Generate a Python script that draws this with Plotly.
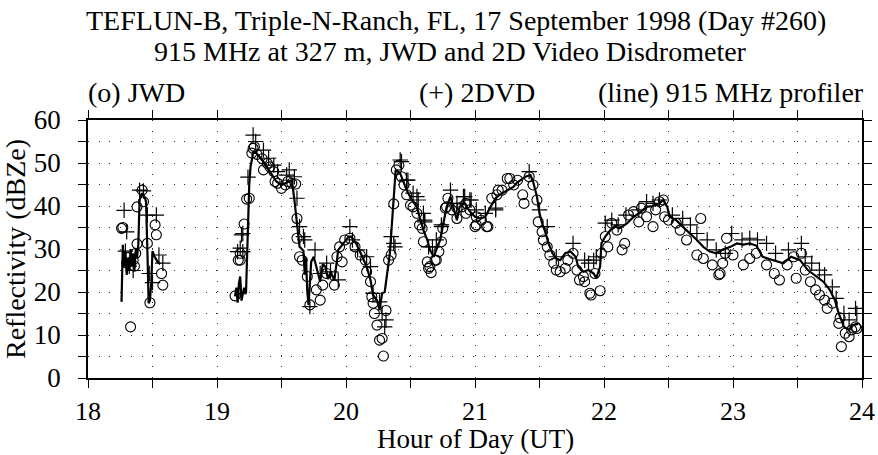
import plotly.graph_objects as go

# ---------------- data ----------------
# 915 MHz profiler (line); None = data gap
prof_hour = [18.26, 18.265, 18.27, 18.28, 18.29, 18.30, 18.31, 18.32, 18.33, 18.34, 18.35, 18.36,
             18.37, 18.38, 18.39, 18.40, 18.42, 18.44, 18.45, 18.46, 18.47, 18.48, 18.49, 18.50,
             18.52, 18.54, 18.56, None,
             19.14, 19.15, 19.16, 19.17, 19.18, 19.19, 19.20, 19.21, 19.22, 19.225, 19.24, 19.25,
             19.26, 19.28, 19.30, 19.32, 19.36, 19.41, 19.46, 19.50, 19.55, 19.58, 19.60, 19.63,
             19.64, 19.67, 19.68, 19.69, 19.70, 19.71, 19.72, 19.73, 19.75, 19.77, 19.80, 19.82,
             19.84, 19.86, 19.88, 19.91, 19.94, 19.98, 20.02, 20.04, 20.08, 20.12, 20.16, 20.19,
             20.21, 20.24, 20.26, 20.28, 20.30, 20.34, 20.385, 20.42, 20.44, 20.47, 20.51, 20.55,
             20.57, 20.60, 20.63, 20.65, 20.68, 20.70, 20.73, 20.75, 20.78, 20.81, 20.83, 20.86,
             20.88, 20.92, 20.96, 21.00, 21.04, 21.08, 21.12, 21.16, 21.19, 21.23, 21.27, 21.30,
             21.32, 21.35, 21.39, 21.43, 21.45, 21.48, 21.50, 21.52, 21.54, 21.57, 21.60, 21.63,
             21.66, 21.70, 21.74, 21.78, 21.80, 21.84, 21.88, 21.92, 21.94, 21.97, 21.98, 22.01,
             22.05, 22.09, 22.12, 22.18, 22.23, 22.28, 22.33, 22.38, 22.43, 22.46, 22.49, 22.51,
             22.56, 22.61, 22.67, 22.72, 22.77, 22.82, 22.87, 22.92, 22.98, 23.03, 23.08, 23.13,
             23.18, 23.23, 23.31, 23.39, 23.45, 23.52, 23.58, 23.65, 23.70, 23.75, 23.79, 23.82,
             23.86, 23.90, 23.93, 23.97]
prof_dbz = [17.7, 25, 31.0, 26, 29.5, 24, 28, 25, 30, 26, 29, 25,
            30, 28, 31, 41.4, 43, 42, 41, 30, 17.4, 18, 22, 29.5,
            28, 27, 26.5, None,
            19.0, 21, 17.5, 22, 23.6, 18, 19.5, 21, 19.5, 20, 35, 45,
            49.1, 52.3, 52.5, 51.8, 50.3, 48, 45.7, 44.9, 45.7, 46, 41.4, 33.6,
            30.5, 29.6, 24, 28, 20, 17, 24, 27, 28.2, 25.9, 22.4, 26.5,
            25.9, 23, 24.7, 22.8, 29.8, 31.3, 32.9, 32.9, 31.2, 28.6, 25.9, 22.8,
            19.3, 18.1, 15.8, 19.7, 20, 29, 48.4, 47.6, 46, 43.7, 41.4, 39.8,
            37.5, 34.4, 32.1, 29.8, 28.2, 29.8, 32.1, 35.2, 39.8, 42.2, 39.8, 36.7,
            39.8, 40.6, 38.7, 37.5, 37.1, 37.5, 39.8, 41.8, 42.6, 43.3, 44.1, 44.5,
            45.3, 46, 46.8, 47.2, 45.7, 42.2, 38.3, 36, 34.4, 31.3, 29, 27.8,
            27.4, 29, 29.4, 28.2, 25.9, 24.7, 25.1, 24.3, 23.2, 25.9, 31.3, 32.9,
            34.4, 35.2, 34.8, 36, 37.5, 38.5, 39.8, 40, 40.6, 41.4, 39.8, 37.5,
            36.7, 35.2, 33.6, 32.1, 30.5, 29.4, 29, 29.8, 30.5, 31.3, 31, 31.3,
            30.8, 28.2, 27.4, 26.7, 28.2, 27.4, 25.1, 23.6, 22.4, 20.5, 18.1, 15,
            11.9, 11.2, 12.3, 12.6]

# JWD (open circles)
jwd_hour = [18.26, 18.27, 18.30, 18.31, 18.33, 18.35, 18.36, 18.37, 18.38, 18.38, 18.42, 18.43,
            18.46, 18.48, 18.52, 18.53, 18.57, 18.58,
            19.14, 19.165, 19.18, 19.18, 19.21, 19.23, 19.25, 19.27, 19.28, 19.29, 19.31, 19.35,
            19.36, 19.39, 19.41, 19.44, 19.45, 19.47, 19.50, 19.53, 19.55, 19.58, 19.61, 19.62,
            19.62, 19.64, 19.66, 19.70, 19.72, 19.77, 19.80, 19.82, 19.85, 19.91, 19.93, 19.95,
            19.97, 19.99, 20.03, 20.07, 20.11, 20.15, 20.16, 20.19, 20.20, 20.21, 20.22, 20.24,
            20.26, 20.28, 20.29, 20.31, 20.33, 20.35, 20.37, 20.39, 20.41, 20.43, 20.45, 20.47,
            20.50, 20.52, 20.55, 20.57, 20.59, 20.60, 20.63, 20.64, 20.65, 20.66, 20.69, 20.70,
            20.72, 20.74, 20.75, 20.77, 20.78, 20.79, 20.82, 20.86, 20.86, 20.90, 20.93, 20.93,
            20.96, 21.00, 21.01, 21.01, 21.05, 21.09, 21.10, 21.13, 21.17, 21.18, 21.21, 21.25,
            21.27, 21.30, 21.33, 21.37, 21.38, 21.42, 21.45, 21.48, 21.49, 21.52, 21.53, 21.56,
            21.58, 21.61, 21.63, 21.66, 21.70, 21.72, 21.76, 21.79, 21.81, 21.84, 21.85, 21.89,
            21.90, 21.93, 21.97, 21.98, 22.01, 22.03, 22.06, 22.10, 22.14, 22.16, 22.19, 22.23,
            22.27, 22.29, 22.33, 22.38, 22.40, 22.43, 22.46, 22.47, 22.50, 22.56, 22.59, 22.64,
            22.72, 22.75, 22.77, 22.84, 22.89, 22.90, 22.92, 22.94, 22.95, 23.00, 23.08, 23.13,
            23.18, 23.26, 23.32, 23.36, 23.42, 23.47, 23.49, 23.53, 23.56, 23.60, 23.64, 23.67,
            23.71, 23.73, 23.77, 23.82, 23.83, 23.84, 23.87, 23.90, 23.92, 23.95, 23.96]
jwd_dbz = [34.8, 35, 26.7, 28, 11.9, 27.4, 26, 29, 31.2, 39.8, 43.7, 41,
           31.3, 17.5, 35.6, 33.3, 24.3, 21.6,
           19.1, 27.4, 27.4, 29, 35.8, 41.6, 41.8, 52.3, 53.4, 53.8, 52, 51,
           48.4, 49.9, 49.1, 48, 45.7, 45.3, 44.1, 44.9, 45.7, 45.3, 45.1, 37.1,
           32.5, 28.2, 27.4, 23.6, 17, 20.5, 18.1, 21.6, 24.3, 21.6, 28.2, 30.5,
           27, 32.1, 32.5, 30.5, 28.6, 27.4, 24.7, 22.4, 18.9, 17.4, 15, 12.3,
           8.8, 9.2, 5.1, 15.7, 27.4, 28.6, 40.5, 48.4, 49.5, 46.8, 44.9, 42.6,
           40.2, 39.8, 38.3, 35.6, 34.8, 31.7, 27, 25.5, 25.9, 24.5, 27.4, 27.4,
           29.4, 31.7, 34.8, 39.5, 39.8, 41.8, 39.1, 39.5, 37.1, 39.8, 38.3, 40.6,
           39.1, 35.2, 37.5, 35.6, 36.7, 35.2, 35.2, 41.8, 42.6, 43.7, 43.7, 46.4,
           46.4, 44.9, 46, 42.6, 40.6, 46.8, 44.9, 41.4, 36.3, 34, 32.1, 30.5,
           28.6, 26.7, 25.1, 24.7, 25.5, 27.4, 29, 25.1, 22.8, 23.6, 22.4, 19.7,
           19.3, 24.3, 20.3, 29, 32.9, 30.5, 36, 34.4, 29.8, 31.3, 37.9, 38.7,
           36.3, 39.5, 37.5, 35.2, 39.1, 41, 41.4, 37.5, 36.7, 36, 34.4, 32.1,
           28.6, 37.1, 27.8, 26.3, 24, 24.3, 26.7, 29, 32.5, 28.6, 26.3, 27.8,
           29, 26.3, 24.3, 22.8, 26.3, 28.2, 23.2, 29, 25.1, 22.4, 20.5, 19.3,
           18.1, 16.2, 17.4, 12.7, 14, 7.3, 10.4, 9.6, 11.2, 11.9, 11.5]

# 2DVD (plus signs)
dvd_hour = [18.28, 18.29, 18.30, 18.32, 18.35, 18.40, 18.43, 18.46, 18.475, 18.50, 18.53, 18.55,
            18.58,
            19.16, 19.18, 19.19, 19.20, 19.20, 19.24, 19.28, 19.30, 19.36, 19.40, 19.44, 19.47,
            19.54, 19.56, 19.60, 19.62, 19.64, 19.67, 19.68, 19.72, 19.76, 19.80, 19.85, 19.88,
            19.94, 20.03, 20.05, 20.09, 20.16, 20.19, 20.21, 20.26, 20.28, 20.30, 20.31, 20.35,
            20.37, 20.38, 20.42, 20.43, 20.47, 20.48, 20.52, 20.55, 20.56, 20.60, 20.61, 20.61,
            20.64, 20.67, 20.70, 20.74, 20.74, 20.81, 20.86, 20.91, 20.92, 20.96, 20.97, 21.01,
            21.08, 21.16, 21.16, 21.42, 21.50, 21.56, 21.63, 21.76, 21.85, 21.88, 21.92, 21.94,
            22.01, 22.06, 22.11, 22.17, 22.27, 22.33, 22.38, 22.43, 22.53, 22.61, 22.67, 22.72,
            22.80, 22.87, 22.94, 22.99, 23.07, 23.13, 23.19, 23.26, 23.33, 23.43, 23.53, 23.56,
            23.61, 23.67, 23.71, 23.77, 23.80, 23.86, 23.90, 23.95, 23.96]
dvd_dbz = [39, 29.5, 34, 26, 25, 43.7, 43.5, 37.9, 24.3, 22.2, 37.9, 28.6,
           26.7,
           29.4, 30.2, 33.3, 33.6, 29.4, 46.7, 56.5, 55, 53, 51.1, 49.5, 48,
           47.2, 48.4, 46.8, 41.8, 35.2, 32.9, 32.1, 16.6, 29.8, 24.3, 26.7, 24.7,
           22.8, 35.2, 32.1, 29.8, 28.2, 25.9, 19.7, 17.7, 15, 11.9, 13.5, 32.9,
           31.3, 30.5, 50.7, 50.3, 46, 46, 43, 42.2, 41.4, 38.3, 36.3, 36.7,
           30.5, 30.5, 32.1, 35.2, 35.6, 43.7, 40.6, 42.2, 42.2, 41.4, 41.4, 39.1,
           38.3, 39.1, 39.5, 48, 39.1, 35.2, 28.2, 31.3, 27.4, 26.7, 27.4, 28.2,
           36, 36.7, 35.6, 37.9, 39.1, 41, 40.6, 41.4, 37.9, 37.1, 35.6, 33.6,
           32.1, 29.8, 29, 33.6, 32.1, 32.5, 32.1, 31.3, 29, 29.8, 31.3, 28.2,
           26.7, 25.1, 24, 21.2, 18.5, 15, 13.5, 16.2, 15]

x_tickvals = [18, 18.5, 19, 19.5, 20, 20.5, 21, 21.5, 22, 22.5, 23, 23.5, 24]
x_ticktext = ["18", "", "19", "", "20", "", "21", "", "22", "", "23", "", "24"]
y_tickvals = [0, 5, 10, 15, 20, 25, 30, 35, 40, 45, 50, 55, 60]
y_ticktext = ["0", "", "10", "", "20", "", "30", "", "40", "", "50", "", "60"]

# ---------------- figure ----------------
FONT = "Liberation Serif, Times New Roman, serif"
fig = go.Figure()
fig.add_trace(go.Scatter(x=jwd_hour, y=jwd_dbz, mode="markers", name="JWD",
                         marker=dict(symbol="circle-open", size=10, color="black",
                                     line=dict(width=1.1, color="black"))))
fig.add_trace(go.Scatter(x=dvd_hour, y=dvd_dbz, mode="markers", name="2DVD",
                         marker=dict(symbol="cross-thin-open", size=11, color="black",
                                     line=dict(width=1.2, color="black"))))
fig.add_trace(go.Scatter(x=prof_hour, y=prof_dbz, mode="lines", name="915 MHz profiler",
                         connectgaps=False, line=dict(color="black", width=2.2)))

axis_common = dict(showline=True, linecolor="black", linewidth=1.5, mirror="ticks",
                   ticks="outside", ticklen=8, tickwidth=1.2, tickcolor="black",
                   showgrid=True, gridcolor="#333333", gridwidth=1, griddash="1px,9.7px",
                   zeroline=False, automargin=False)

fig.update_xaxes(range=[18, 24], tickmode="array", tickvals=x_tickvals, ticktext=x_ticktext,
                 ticklabelstandoff=1, tickfont=dict(family=FONT, size=26, color="black"),
                 **axis_common)
fig.update_yaxes(range=[0, 60], tickmode="array", tickvals=y_tickvals, ticktext=y_ticktext,
                 ticklabelstandoff=12, tickfont=dict(family=FONT, size=27, color="black"),
                 title=dict(text="Reflectivity (dBZe)", font=dict(family=FONT, size=28, color="black"),
                            standoff=2),
                 **axis_common)

ann_font = dict(family=FONT, size=28, color="black")
fig.update_layout(
    width=878, height=455,
    margin=dict(l=88, r=16, t=120, b=77),
    paper_bgcolor="white", plot_bgcolor="white",
    showlegend=False,
    annotations=[
        dict(text="TEFLUN-B, Triple-N-Ranch, FL, 17 September 1998 (Day #260)", xref="paper",
             yref="paper", x=0.475, y=1.384, xanchor="center", yanchor="middle",
             showarrow=False, font=ann_font),
        dict(text="915 MHz at 327 m, JWD and 2D Video Disdrometer", xref="paper",
             yref="paper", x=0.468, y=1.264, xanchor="center", yanchor="middle",
             showarrow=False, font=ann_font),
        dict(text="(o) JWD", xref="paper", yref="paper", x=-0.002, y=1.108,
             xanchor="left", yanchor="middle", showarrow=False, font=ann_font),
        dict(text="(+) 2DVD", xref="paper", yref="paper", x=0.425, y=1.108,
             xanchor="left", yanchor="middle", showarrow=False, font=ann_font),
        dict(text="(line) 915 MHz profiler", xref="paper", yref="paper", x=1.005, y=1.108,
             xanchor="right", yanchor="middle", showarrow=False, font=ann_font),
        dict(text="Hour of Day (UT)", xref="paper", yref="paper", x=0.5, y=-0.3,
             xanchor="center", yanchor="bottom", borderpad=0, showarrow=False,
             font=dict(family=FONT, size=27, color="black")),
    ],
)

fig.write_html("out.html")
